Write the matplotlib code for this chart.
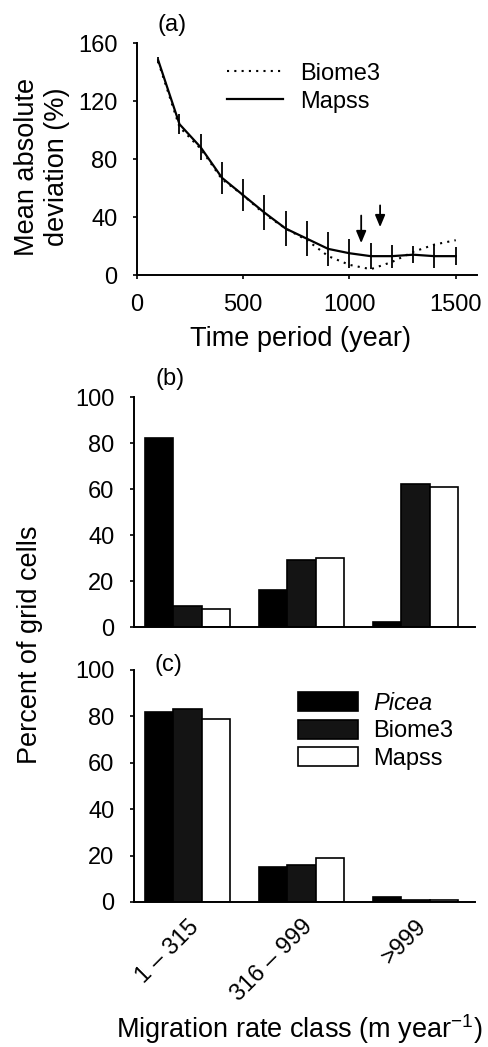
import numpy as np
import matplotlib
matplotlib.use("Agg")
import matplotlib.pyplot as plt

plt.rcParams['font.family'] = ['Liberation Sans', 'DejaVu Sans']
plt.rcParams['mathtext.default'] = 'regular'

# ---- data (a)
years = [100, 200, 300, 400, 500, 600, 700, 800, 900, 1000, 1100, 1200, 1300, 1400, 1500]
mapss_dev = [148, 104, 88, 67, 55, 43, 32, 25, 18, 15, 13, 13, 14, 13, 13]
biome3_dev = [147, 102, 87, 66, 55, 42, 32, 24, 13, 7, 4, 9, 16, 21, 24]
mapss_err = [2, 7, 9, 11, 11, 12, 12, 12, 12, 10, 9, 8, 6, 8, 6]
arrow_years = [1055, 1144]
arrow_tips = [22, 33]
arrow_tails = [41, 48]

# ---- data (b), (c)
classes = ['1 – 315', '316 – 999', '>999']
series = ['Picea', 'Biome3', 'Mapss']
b_picea = [82, 16, 2]
b_biome3 = [9, 29, 62]
b_mapss = [8, 30, 61]
c_picea = [82, 15, 2]
c_biome3 = [83, 16, 1]
c_mapss = [79, 19, 1]

tfs = 17    # tick / legend / panel-label size
lfs = 19.5  # axis label size
fig = plt.figure(figsize=(4.89, 10.47), dpi=100)
W, H = 489, 1047

def px_axes(l, r, t, b):
    return fig.add_axes([l / W, 1 - b / H, (r - l) / W, (b - t) / H])

def style(ax):
    for s in ['top', 'right']:
        ax.spines[s].set_visible(False)
    for s in ['left', 'bottom']:
        ax.spines[s].set_linewidth(1.4)
    ax.tick_params(direction='out', length=3, width=1.2, labelsize=tfs, pad=11)

# ---- panel (a)
axa = px_axes(137, 477, 43, 275)
style(axa)
axa.plot(years, biome3_dev, linestyle=(0, (1, 2.5)), color='black', lw=1.5)
axa.errorbar(years, mapss_dev, yerr=mapss_err, color='black', lw=1.6,
             elinewidth=1.3, capsize=0)
for xv, yt, y0 in zip(arrow_years, arrow_tips, arrow_tails):
    axa.annotate('', xy=(xv, yt), xytext=(xv, y0),
                 arrowprops=dict(arrowstyle='-|>,head_length=0.6,head_width=0.25',
                                 color='black', lw=1.3,
                                 mutation_scale=12, shrinkA=0, shrinkB=0))
axa.set_xlim(0, 1600)
axa.set_ylim(0, 160)
axa.set_xticks([0, 500, 1000, 1500])
axa.set_yticks([0, 40, 80, 120, 160])
axa.legend([plt.Line2D([], [], ls=(0, (1, 2.5)), color='black', lw=1.5),
            plt.Line2D([], [], ls='-', color='black', lw=1.6)],
           ['Biome3', 'Mapss'], loc='upper left', bbox_to_anchor=(0.265, 0.915),
           frameon=False, fontsize=tfs, handlelength=2.37, handletextpad=0.72,
           borderaxespad=0, borderpad=0, labelspacing=0.25)
fig.text(172 / W, 1 - 25 / H, '(a)', fontsize=tfs, ha='center', va='center')
fig.text(301 / W, 1 - 339 / H, 'Time period (year)', fontsize=lfs, ha='center', va='center')
fig.text(42 / W, 1 - 167 / H, 'Mean absolute\ndeviation (%)', fontsize=lfs,
         ha='center', va='center', rotation=90, linespacing=1.2)

# ---- bar panels
colors = ['#000000', '#141414', '#ffffff']
x = np.arange(len(classes))
w = 0.25

def bars(ax, vals):
    for i, (v, c, name) in enumerate(zip(vals, colors, series)):
        ax.bar(x + (i - 1) * w, v, w, color=c, edgecolor='black', linewidth=1.2,
               label=name)
    ax.set_xlim(-0.47, 2.52)
    ax.set_ylim(0, 100)
    ax.set_yticks([0, 20, 40, 60, 80, 100])

axb = px_axes(134, 475, 397, 627)
style(axb)
bars(axb, [b_picea, b_biome3, b_mapss])
axb.set_xticks(x)
axb.tick_params(axis='x', length=0, labelbottom=False)
fig.text(170 / W, 1 - 379 / H, '(b)', fontsize=tfs, ha='center', va='center')

axc = px_axes(134, 475, 670, 902)
style(axc)
bars(axc, [c_picea, c_biome3, c_mapss])
axc.set_xticks(x)
axc.set_xticklabels(classes, rotation=45, ha='right', rotation_mode='anchor')
axc.tick_params(axis='x', length=0, pad=10)
leg = axc.legend(loc='upper left', bbox_to_anchor=(0.481, 0.905), frameon=False,
                 fontsize=tfs, handlelength=2.55, handleheight=0.85,
                 handletextpad=0.62, borderaxespad=0, borderpad=0, labelspacing=0.2)
leg.get_texts()[0].set_fontstyle('italic')
fig.text(168 / W, 1 - 665 / H, '(c)', fontsize=tfs, ha='center', va='center')

fig.text(30 / W, 1 - 645 / H, 'Percent of grid cells', fontsize=lfs,
         ha='center', va='center', rotation=90)
fig.text(299 / W, 1 - 1029 / H, 'Migration rate class (m year$^{-1}$)', fontsize=lfs,
         ha='center', va='center')

fig.savefig('out.png', dpi=100)
